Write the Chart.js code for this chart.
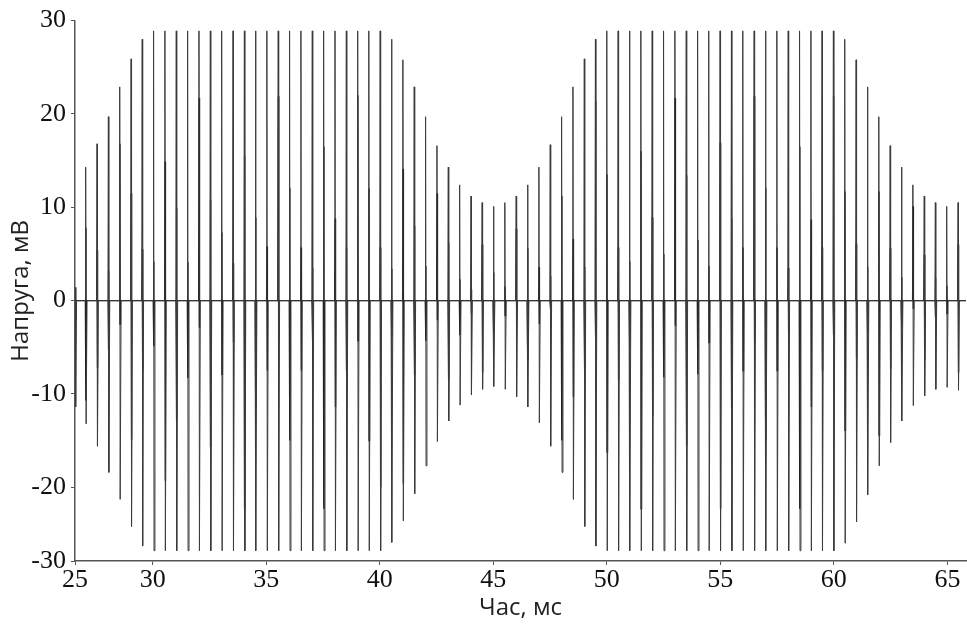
<!DOCTYPE html>
<html>
<head>
<meta charset="utf-8">
<title>Напруга</title>
<script src="https://cdn.jsdelivr.net/npm/chart.js@4.4.1/dist/chart.umd.min.js"></script>
<style>
    html, body { margin: 0; padding: 0; background: #ffffff; }
    #wrap { width: 967px; height: 625px; position: relative; }
</style>
</head>
<body>
<div id="wrap"><canvas id="voltageChart"></canvas></div>
<script>
// ======================
// DONNÉES
// ======================
// instants des impulsions, ms
const pulseTimes = [
    26.60, 27.06, 27.56, 28.06, 28.56, 29.06, 29.55, 30.05, 30.55, 31.05,
    31.55, 32.05, 32.55, 33.05, 33.55, 34.05, 34.54, 35.04, 35.54, 36.04,
    36.54, 37.04, 37.54, 38.04, 38.54, 39.04, 39.53, 40.03, 40.53, 41.03,
    41.53, 42.03, 42.53, 43.03, 43.53, 44.03, 44.52, 45.02, 45.52, 46.02,
    46.52, 47.02, 47.52, 48.02, 48.52, 49.02, 49.51, 50.01, 50.51, 51.01,
    51.51, 52.01, 52.51, 53.01, 53.51, 54.01, 54.50, 55.00, 55.50, 56.00,
    56.50, 57.00, 57.50, 58.00, 58.50, 59.00, 59.49, 59.99, 60.49, 60.99,
    61.49, 61.99, 62.49, 62.99, 63.49, 63.99, 64.48, 64.98, 65.48
];

// pic positif de chaque impulsion, mV
const peakHigh = [
    1.4, 14.3, 16.8, 19.7, 22.9, 25.9, 28.0, 28.9, 28.9, 28.9,
    28.9, 28.9, 28.9, 28.9, 28.9, 28.9, 28.9, 28.9, 28.9, 28.9,
    28.9, 28.9, 28.9, 28.9, 28.9, 28.9, 28.9, 28.9, 28.0, 25.8,
    22.9, 19.7, 16.6, 14.3, 12.4, 11.2, 10.5, 10.1, 10.5, 11.2,
    12.4, 14.3, 16.7, 19.7, 22.9, 25.9, 28.0, 28.9, 28.9, 28.9,
    28.9, 28.9, 28.9, 28.9, 28.9, 28.9, 28.9, 28.9, 28.9, 28.9,
    28.9, 28.9, 28.9, 28.9, 28.9, 28.9, 28.9, 28.9, 28.0, 25.8,
    22.9, 19.7, 16.6, 14.3, 12.4, 11.2, 10.5, 10.1, 10.5
];

// pic négatif de chaque impulsion, mV
const peakLow = [
    -11.4, -13.2, -15.6, -18.4, -21.3, -24.2, -26.3, -26.8, -26.8, -26.8,
    -26.8, -26.8, -26.8, -26.8, -26.8, -26.8, -26.8, -26.8, -26.8, -26.8,
    -26.8, -26.8, -26.8, -26.8, -26.8, -26.8, -26.8, -26.8, -25.9, -23.6,
    -20.7, -17.7, -15.1, -12.9, -11.2, -10.1, -9.5, -9.2, -9.5, -10.3,
    -11.4, -13.1, -15.6, -18.4, -21.3, -24.2, -26.3, -26.8, -26.8, -26.8,
    -26.8, -26.8, -26.8, -26.8, -26.8, -26.8, -26.8, -26.8, -26.8, -26.8,
    -26.8, -26.8, -26.8, -26.8, -26.8, -26.8, -26.8, -26.8, -26.0, -23.7,
    -20.8, -17.7, -15.2, -12.9, -11.25, -10.2, -9.5, -9.3, -9.6
];

// partie foncée (aller-retour intérieur), haut
const innerHigh = [
    1.4, 7.8, 5.4, 3.2, 16.8, 11.5, 5.5, 4.2, 14.9, 9.9,
    4.1, 21.7, 10.8, 7.3, 4.0, 15.5, 8.9, 5.8, 21.9, 12.1,
    5.7, 3.5, 16.5, 8.8, 5.7, 22.0, 12.0, 5.7, 3.4, 14.1,
    8.0, 3.7, 11.5, 6.2, 2.3, 1.2, 6.0, 3.0, 1.5, 7.7,
    5.6, 3.6, 2.6, 11.2, 6.6, 3.6, 21.4, 13.5, 5.7, 4.2,
    16.0, 8.9, 5.0, 21.7, 13.4, 6.5, 3.7, 16.9, 8.8, 5.7,
    21.9, 12.1, 5.7, 3.5, 16.5, 8.7, 5.7, 21.9, 11.7, 6.1,
    3.6, 11.7, 5.6, 2.5, 10.1, 4.9, 2.4, 1.6, 6.0
];

// partie foncée, bas
const innerLow = [
    -2.1, -10.7, -7.2, -5.3, -2.5, -14.9, -7.5, -4.9, -19.3, -12.8,
    -8.3, -2.9, -15.7, -7.9, -4.5, -22.3, -11.4, -7.5, -4.3, -15.0,
    -7.5, -4.2, -22.3, -11.4, -7.5, -4.3, -15.0, -20.0, -3.9, -19.6,
    -8.0, -4.3, -2.1, -8.5, -3.7, -1.4, -7.7, -3.6, -1.6, -0.9,
    -6.4, -2.5, -0.9, -15.0, -10.3, -7.5, -3.9, -16.2, -8.5, -4.8,
    -22.3, -12.3, -8.2, -2.7, -15.5, -7.9, -4.5, -22.3, -11.6, -7.5,
    -4.3, -15.0, -7.5, -4.1, -22.3, -11.4, -7.5, -3.7, -13.9, -6.2,
    -3.4, -14.4, -7.3, -2.8, -0.9, -6.4, -1.8, -1.4, -7.7
];

// axes (graduations telles qu'imprimées)
const xMin = 26.58, xMax = 65.82;
const yMin = -27.9, yMax = 30;
const xTickValues = [xMin, 30, 35, 40, 45, 50, 55, 60, 65];
const xTickLabels = ['25', '30', '35', '40', '45', '50', '55', '60', '65'];
const yTickValues = [yMin, -20, -10, 0, 10, 20, 30];
const yTickLabels = ['-30', '-20', '-10', '0', '10', '20', '30'];

// ======================
// CONSTRUCTION DES TRACÉS
// ======================
const outerPoints = [{ x: xMin - 0.1, y: 0 }];
const innerPoints = [{ x: xMin - 0.1, y: 0 }];

pulseTimes.forEach((t, i) => {
    outerPoints.push(
        { x: t - 0.03, y: 0 },
        { x: t - 0.01, y: peakHigh[i] },
        { x: t + 0.01, y: peakLow[i] },
        { x: t + 0.05, y: 0 }
    );
    innerPoints.push(
        { x: t - 0.02, y: 0 },
        { x: t - 0.004, y: innerHigh[i] },
        { x: t + 0.004, y: innerLow[i] },
        { x: t + 0.02, y: 0 }
    );
});
outerPoints.push({ x: xMax + 0.1, y: 0 });
innerPoints.push({ x: xMax + 0.1, y: 0 });

const tickFont = { family: "'Liberation Serif', 'Times New Roman', serif", size: 26 };
const titleFont = { family: "'Open Sans', sans-serif", size: 24 };
const axisColor = '#555555';

const ctx = document.getElementById('voltageChart').getContext('2d');
new Chart(ctx, {
    type: 'line',
    data: {
        datasets: [
            {
                label: 'outer',
                data: outerPoints,
                borderColor: '#3c3c3c',
                borderWidth: 1,
                pointRadius: 0,
                tension: 0
            },
            {
                label: 'inner',
                data: innerPoints,
                borderColor: '#000000',
                borderWidth: 1.4,
                pointRadius: 0,
                tension: 0
            }
        ]
    },
    options: {
        responsive: true,
        maintainAspectRatio: false,
        animation: false,
        layout: { padding: { top: 19, right: 1, left: 0, bottom: 0 } },
        plugins: {
            legend: { display: false },
            tooltip: { enabled: false }
        },
        scales: {
            x: {
                type: 'linear',
                min: xMin,
                max: xMax,
                afterBuildTicks: scale => {
                    scale.ticks = xTickValues.map(v => ({ value: v }));
                },
                afterFit: scale => { scale.height = 64; },
                ticks: {
                    font: tickFont,
                    color: '#111111',
                    padding: 0,
                    maxRotation: 0,
                    autoSkip: false,
                    callback: function(value) {
                        const i = xTickValues.indexOf(value);
                        return i >= 0 ? xTickLabels[i] : '';
                    }
                },
                grid: {
                    drawOnChartArea: false,
                    drawTicks: true,
                    tickLength: 4,
                    color: axisColor
                },
                border: { display: true, color: axisColor, width: 1.5 },
                title: {
                    display: true,
                    text: 'Час, мс',
                    font: titleFont,
                    color: '#222222',
                    padding: { top: 0, bottom: 2 }
                }
            },
            y: {
                type: 'linear',
                min: yMin,
                max: yMax,
                afterBuildTicks: scale => {
                    scale.ticks = yTickValues.map(v => ({ value: v }));
                },
                afterFit: scale => { scale.width = 75; },
                ticks: {
                    font: tickFont,
                    color: '#111111',
                    padding: 5,
                    autoSkip: false,
                    callback: function(value) {
                        const i = yTickValues.indexOf(value);
                        return i >= 0 ? yTickLabels[i] : '';
                    }
                },
                grid: {
                    drawOnChartArea: false,
                    drawTicks: true,
                    tickLength: 4,
                    color: axisColor
                },
                border: { display: true, color: axisColor, width: 1.5 },
                title: {
                    display: true,
                    text: 'Напруга, мВ',
                    font: titleFont,
                    color: '#222222',
                    padding: { top: 7, bottom: 0 }
                }
            }
        }
    }
});
</script>
</body>
</html>
